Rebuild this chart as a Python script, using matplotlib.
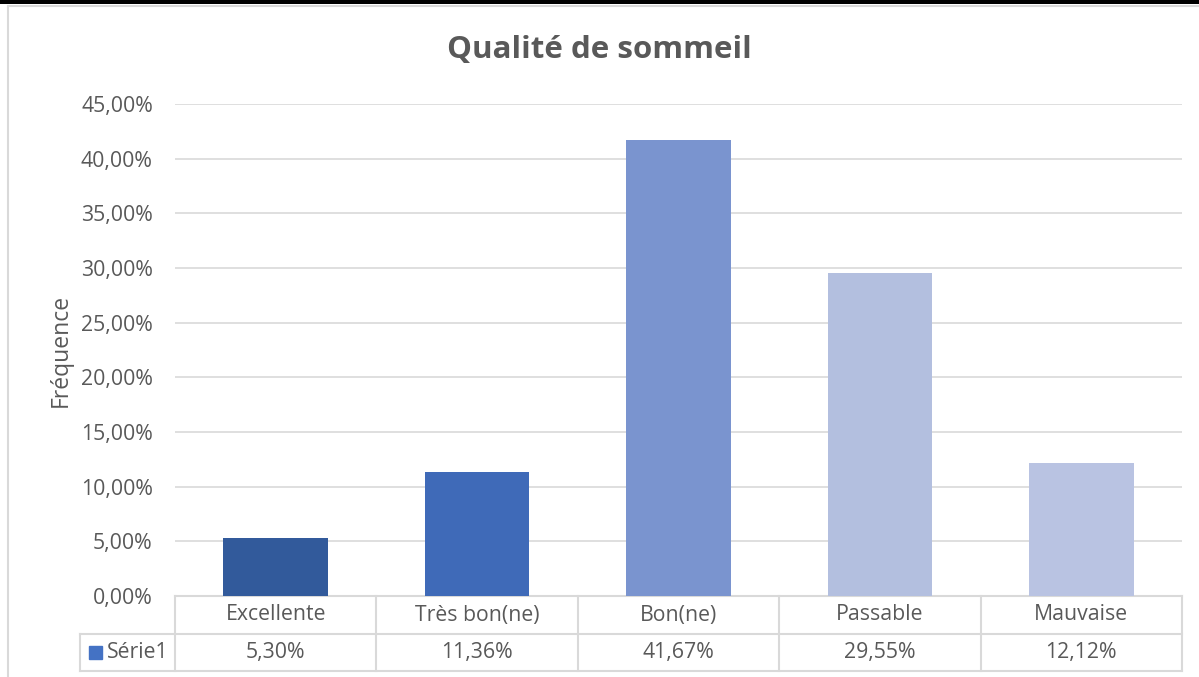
import matplotlib.pyplot as plt
from matplotlib.lines import Line2D
from matplotlib.patches import Rectangle
import numpy as np

categories = ['Excellente', 'Très bon(ne)', 'Bon(ne)', 'Passable', 'Mauvaise']
values = [5.30, 11.36, 41.67, 29.55, 12.12]
labels = ['5,30%', '11,36%', '41,67%', '29,55%', '12,12%']
series_name = 'Série1'
colors = ['#325A9B', '#3F6AB8', '#7A94CF', '#B3BFDF', '#B9C3E2']
yticks = np.arange(0, 46, 5)

plt.rcParams['font.family'] = ['Open Sans', 'DejaVu Sans']
W, H = 1199, 677
fs = 15.3
fig = plt.figure(figsize=(W / 100, H / 100), dpi=100)

# cadre
fig.add_artist(Rectangle((0, 1 - 4 / H), 1, 4 / H, transform=fig.transFigure, color='black', lw=0))
fig.add_artist(Line2D([8 / W, 1], [1 - 6 / H] * 2, transform=fig.transFigure, color='#D9D9D9', lw=1.5))
fig.add_artist(Line2D([8 / W] * 2, [0, 1 - 6 / H], transform=fig.transFigure, color='#D9D9D9', lw=1.5))

left, right, top, bottom = 175, 1182, 104, 596
ax = fig.add_axes([left / W, 1 - bottom / H, (right - left) / W, (bottom - top) / H])
x = np.arange(len(categories))
ax.bar(x, values, width=0.52, color=colors, zorder=3)
ax.set_xlim(-0.5, len(categories) - 0.5)
ax.set_ylim(0, 45)
ax.set_yticks(yticks)
ax.set_yticklabels([f'{v},00%' for v in yticks], fontsize=fs, color='#595959')
ax.tick_params(axis='y', length=0, pad=16)
ax.set_xticks([])
ax.grid(axis='y', color='#D9D9D9', lw=1.2, zorder=0)
for s in ax.spines.values():
    s.set_visible(False)
ax.set_ylabel('Fréquence', fontsize=16.5, color='#595959')
ax.yaxis.set_label_coords((73 - left) / (right - left), 0.5)
fig.text(0.5, 1 - 50 / H, 'Qualité de sommeil', ha='center', va='center',
         fontsize=22.5, fontweight='bold', color='#595959')

# table de données
ph = bottom - top
r1 = -38 / ph
r2 = -75 / ph
lk = dict(transform=ax.transAxes, color='#D9D9D9', lw=1.5, clip_on=False)
leg_x = (80 - left) / (right - left)
ax.add_line(Line2D([0, 1], [0, 0], **lk))
ax.add_line(Line2D([leg_x, 1], [r1, r1], **lk))
ax.add_line(Line2D([leg_x, 1], [r2, r2], **lk))
ax.add_line(Line2D([leg_x, leg_x], [r1, r2], **lk))
for i in range(len(categories) + 1):
    xf = i / len(categories)
    ax.add_line(Line2D([xf, xf], [0, r2], **lk))
for i, (c, l) in enumerate(zip(categories, labels)):
    xf = (i + 0.5) / len(categories)
    ax.text(xf, r1 / 2, c, transform=ax.transAxes, ha='center', va='center',
            fontsize=fs, color='#595959')
    ax.text(xf, (r1 + r2) / 2, l, transform=ax.transAxes, ha='center', va='center',
            fontsize=fs, color='#595959')
sq = 13 / (right - left)
ax.add_patch(Rectangle(((89 - left) / (right - left), (r1 + r2) / 2 - 6.5 / ph), sq, 13 / ph,
                       transform=ax.transAxes, color='#4472C4', clip_on=False))
ax.text((107 - left) / (right - left), (r1 + r2) / 2, series_name, transform=ax.transAxes,
        ha='left', va='center', fontsize=fs, color='#595959')

fig.savefig('out.png', dpi=100)
